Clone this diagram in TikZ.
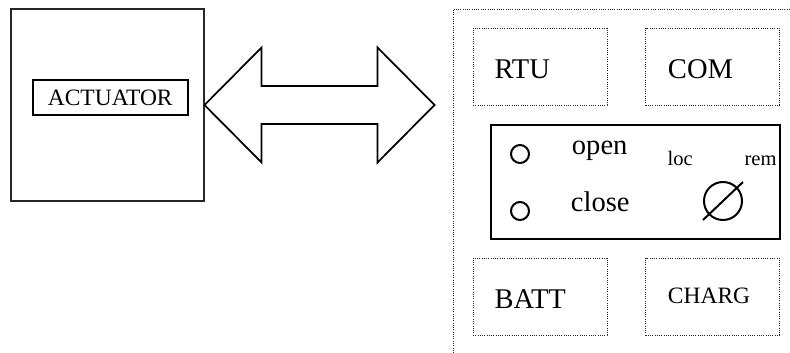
\documentclass[tikz,border=0pt]{standalone}
\usepackage{fontspec}
\setmainfont{Liberation Serif}
\usetikzlibrary{positioning}

\begin{document}
\begin{tikzpicture}[
        x=0.75pt, y=-0.75pt,
        unit/.style={rectangle, draw=black!85, line width=0.8pt, minimum width=144.75pt, minimum height=144pt},
        tag/.style={rectangle, draw=black, line width=1.5pt, minimum width=116.6pt, minimum height=26.25pt, inner sep=0pt, font=\fontsize{17.6}{20}\selectfont},
        module/.style={rectangle, draw=black!85, densely dotted, line width=0.7pt, minimum width=100.5pt, minimum height=57.75pt},
        panel/.style={rectangle, draw=black, line width=1.5pt, minimum width=216.75pt, minimum height=85.5pt},
        lamp/.style={circle, draw=black, line width=1.5pt, minimum size=13.5pt, inner sep=0pt},
        big/.style={font=\fontsize{21.4}{24}\selectfont, anchor=base west, inner sep=0pt},
        mid/.style={font=\fontsize{17.6}{20}\selectfont, anchor=base west, inner sep=0pt},
        small/.style={font=\fontsize{15.4}{18}\selectfont, anchor=base west, inner sep=0pt}
    ]
        \useasboundingbox (0,0) rectangle (790,353);
        % actuator side
        \node[unit] (act) at (107.5, 105) {};
        \node[tag] (acttag) at (110.25, 97.5) {ACTUATOR};
        \draw[line width=1.3pt, line join=miter] (act.east) -- ++(57,-57.5) -- ++(0,38.5) -- ++(116,0) -- ++(0,-38.5) -- ++(57,57.5) -- ++(-57,57.5) -- ++(0,-38.5) -- ++(-116,0) -- ++(0,38.5) -- cycle;
        % cabinet
        \draw[draw=black!85, densely dotted, line width=0.7pt] (453,353) -- (453,9) -- (790,9);
        \node[module] (rtu) at (540, 66.5) {};
        \node[module] (com) at (712.5, 66.5) {};
        \node[module] (batt) at (540, 296.5) {};
        \node[module] (charg) at (712.5, 296.5) {};
        \node[big] (rtutxt) at (494.3, 79) {RTU};
        \node[big] (comtxt) at (667.7, 79) {COM};
        \node[big] (batttxt) at (494.3, 308) {BATT};
        \node[mid] (chargtxt) at (667.7, 303) {CHARG};
        % control panel
        \node[panel] (ctrl) at (635.5, 182) {};
        \node[lamp] (lopen) at (520, 154) {};
        \node[lamp] (lclose) at (520, 211) {};
        \node[big] (opentxt) at (571.7, 154.3) {open};
        \node[big] (closetxt) at (570.7, 211) {close};
        \node[small] (loctxt) at (667.3, 166) {loc};
        \node[small] (remtxt) at (744.3, 166) {rem};
        \node[circle, draw=black, line width=1.5pt, minimum size=28.5pt, inner sep=0pt] (sel) at (723, 201) {};
        \draw[line width=1.5pt] (703,220) -- (743,182);
    \end{tikzpicture}
\end{document}
